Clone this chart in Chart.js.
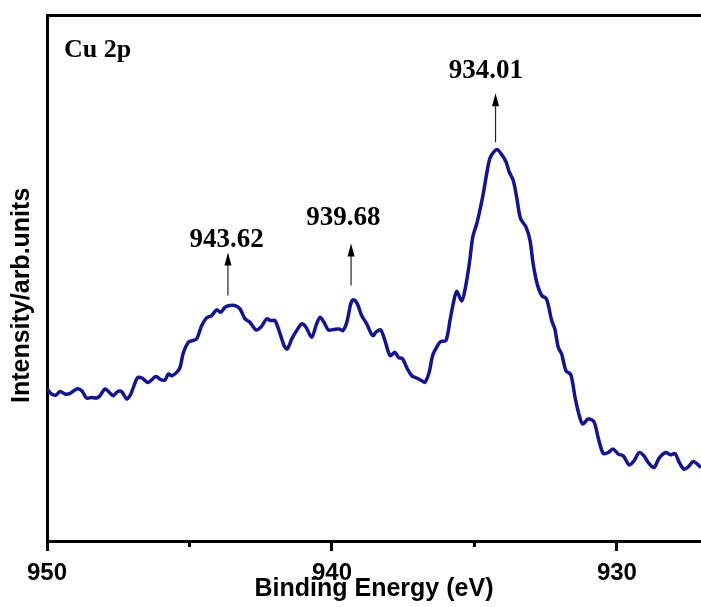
<!DOCTYPE html>
<html>
<head>
<meta charset="utf-8">
<script src="https://cdn.jsdelivr.net/npm/chart.js@4"></script>
<style>
  body { margin: 0; background: #fff; }
</style>
</head>
<body>
<canvas id="xpsChart" width="701" height="607"></canvas>
<script>
// Cu 2p spectrum
const energy = [
  949.99, 949.84, 949.68, 949.54, 949.37, 949.19, 948.94, 948.78, 948.61, 948.43,
  948.26, 948.14, 947.96, 947.79, 947.67, 947.53, 947.38, 947.20, 947.06, 946.83,
  946.68, 946.45, 946.18, 946.01, 945.86, 945.74, 945.62, 945.45, 945.33, 945.22,
  945.04, 944.89, 944.75, 944.57, 944.40, 944.22, 944.05, 943.91, 943.75, 943.58,
  943.40, 943.23, 943.05, 942.88, 942.67, 942.50, 942.29, 942.15, 942.00, 941.82,
  941.68, 941.57, 941.41, 941.24, 941.06, 940.91, 940.71, 940.56, 940.42, 940.28,
  940.13, 939.95, 939.74, 939.62, 939.48, 939.34, 939.25, 939.11, 938.96, 938.78,
  938.57, 938.43, 938.29, 938.14, 937.96, 937.79, 937.67, 937.52, 937.38, 937.20,
  937.03, 936.85, 936.74, 936.59, 936.47, 936.33, 936.19, 936.00, 935.86, 935.74,
  935.62, 935.45, 935.33, 935.18, 935.06, 934.92, 934.81, 934.69, 934.57, 934.46,
  934.32, 934.20, 934.05, 933.89, 933.78, 933.64, 933.52, 933.38, 933.19, 933.05,
  932.94, 932.80, 932.64, 932.47, 932.29, 932.18, 932.06, 931.94, 931.79, 931.62,
  931.47, 931.32, 931.20, 931.01, 930.81, 930.66, 930.48, 930.31, 930.13, 929.95,
  929.78, 929.57, 929.40, 929.22, 929.05, 928.90, 928.70, 928.52, 928.28, 928.12,
  927.96, 927.81, 927.65, 927.50, 927.32, 927.15, 927.05
];
const intensity = [
  151.7, 146.7, 145.7, 149.3, 146.7, 147.3, 152.0, 150.0, 142.7, 143.3,
  142.7, 145.0, 151.7, 147.7, 145.0, 149.0, 149.0, 141.7, 146.7, 162.7,
  162.7, 158.3, 164.3, 161.0, 160.7, 166.7, 165.0, 168.3, 173.3, 187.5,
  198.3, 200.0, 201.7, 215.0, 222.7, 225.0, 230.7, 228.3, 233.3, 235.0,
  235.0, 231.7, 221.7, 218.3, 210.7, 213.3, 221.7, 220.0, 220.0, 206.7,
  195.0, 191.7, 201.7, 210.0, 216.7, 213.3, 203.3, 215.0, 223.3, 218.3,
  210.7, 211.0, 211.7, 210.0, 218.3, 236.7, 240.7, 236.7, 225.0, 216.7,
  205.0, 209.3, 210.7, 200.0, 185.0, 188.3, 183.3, 181.7, 173.3, 165.0,
  162.7, 160.0, 158.3, 168.3, 185.0, 193.3, 199.0, 200.0, 220.0, 237.5,
  249.3, 239.5, 251.0, 276.7, 303.3, 316.7, 330.0, 346.7, 366.7, 381.7,
  388.3, 390.7, 386.0, 378.3, 368.3, 360.0, 343.3, 321.7, 313.3, 300.0,
  276.7, 256.7, 245.0, 241.5, 220.0, 211.7, 193.3, 186.7, 170.0, 166.0,
  143.3, 125.0, 116.7, 121.7, 119.3, 103.3, 87.3, 88.3, 91.7, 86.7,
  85.0, 76.0, 80.0, 88.3, 85.0, 78.3, 73.3, 82.7, 88.3, 86.0,
  87.3, 78.3, 71.7, 74.0, 79.3, 76.0, 73.3
];

const majorTicks = [950, 940, 930];
const minorTicks = [945, 935];

// peak labels: text, label centre (eV, a.u.), arrow (eV, from, to)
const peakLabels = ['943.62', '939.68', '934.01'];
const peakLabelX = [943.70, 939.60, 934.60];
const peakLabelY = [293, 315, 462];
const arrowX = [943.65, 939.33, 934.26];
const arrowFrom = [245, 255, 398];
const arrowTo = [288, 297, 447];

const X_MIN = 927.05, X_MAX = 950;
const Y_MIN = 0, Y_MAX = 525;

const SERIF = '"Liberation Serif", "Times New Roman", serif';
const SANS = '"Liberation Sans", Arial, sans-serif';

Chart.defaults.font.family = SANS;
Chart.defaults.color = '#000';

const annotations = {
  id: 'annotations',
  afterDraw(chart) {
    const { ctx, scales: { x, y } } = chart;
    ctx.save();
    ctx.fillStyle = '#000';

    ctx.font = 'bold 26px ' + SERIF;
    ctx.textAlign = 'left';
    ctx.textBaseline = 'alphabetic';
    ctx.fillText('Cu 2p', x.getPixelForValue(949.40), y.getPixelForValue(483));

    ctx.font = 'bold 27px ' + SERIF;
    ctx.textAlign = 'center';
    peakLabels.forEach((t, i) => {
      ctx.fillText(t, x.getPixelForValue(peakLabelX[i]), y.getPixelForValue(peakLabelY[i]));
    });

    // arrows
    ctx.strokeStyle = '#222';
    ctx.lineWidth = 1.2;
    arrowX.forEach((ax, i) => {
      const px = x.getPixelForValue(ax);
      const y0 = y.getPixelForValue(arrowFrom[i]);
      const y1 = y.getPixelForValue(arrowTo[i]);
      ctx.beginPath();
      ctx.moveTo(px, y0);
      ctx.lineTo(px, y1 + 10);
      ctx.stroke();
      ctx.beginPath();
      ctx.moveTo(px, y1);
      ctx.lineTo(px - 3.5, y1 + 13);
      ctx.lineTo(px + 3.5, y1 + 13);
      ctx.closePath();
      ctx.fill();
    });

    // minor ticks on the energy axis
    ctx.strokeStyle = '#000';
    ctx.lineWidth = 3;
    const base = chart.chartArea.bottom;
    minorTicks.forEach(v => {
      const px = x.getPixelForValue(v);
      ctx.beginPath();
      ctx.moveTo(px, base);
      ctx.lineTo(px, base + 6);
      ctx.stroke();
    });
    ctx.restore();
  }
};

new Chart(document.getElementById('xpsChart'), {
  type: 'line',
  data: {
    datasets: [{
      label: 'Cu 2p',
      data: energy.map((e, i) => ({ x: e, y: intensity[i] })),
      borderColor: '#14148c',
      borderWidth: 3.5,
      pointRadius: 0,
      tension: 0.3,
      fill: false
    }]
  },
  options: {
    responsive: false,
    animation: false,
    devicePixelRatio: 1,
    layout: { padding: { top: 15, left: 0, right: 0, bottom: 0 } },
    plugins: {
      legend: { display: false },
      tooltip: { enabled: false }
    },
    scales: {
      x: {
        type: 'linear',
        reverse: true,
        min: X_MIN,
        max: X_MAX,
        afterBuildTicks: s => { s.ticks = majorTicks.map(v => ({ value: v })); },
        ticks: {
          font: { size: 24, weight: 'bold', lineHeight: '14px' },
          padding: 15,
          maxRotation: 0,
          callback: v => String(v)
        },
        grid: {
          drawOnChartArea: false,
          drawTicks: true,
          tickLength: 10,
          tickWidth: 3,
          tickColor: '#000'
        },
        border: { color: '#000', width: 3 },
        title: {
          display: true,
          text: 'Binding Energy (eV)',
          font: { size: 25, weight: 'bold', lineHeight: '21px' },
          padding: { top: -16, bottom: 7 }
        }
      },
      x2: {
        type: 'linear',
        position: 'top',
        reverse: true,
        min: X_MIN,
        max: X_MAX,
        ticks: { display: false },
        grid: { display: false, drawTicks: false },
        border: { color: '#000', width: 3 }
      },
      y: {
        min: Y_MIN,
        max: Y_MAX,
        ticks: { display: false },
        grid: { display: false, drawTicks: false },
        border: { color: '#000', width: 3 },
        title: {
          display: true,
          text: 'Intensity/arb.units     ',
          font: { size: 25, weight: 'bold', lineHeight: '25px' },
          padding: { top: 10, bottom: 12 }
        }
      }
    }
  },
  plugins: [annotations]
});
</script>
</body>
</html>
